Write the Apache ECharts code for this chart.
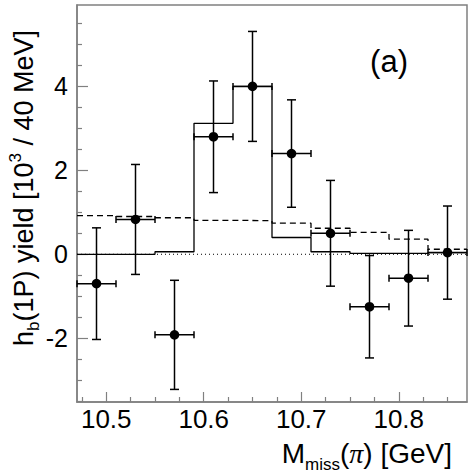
<!DOCTYPE html>
<html>
<head>
<meta charset="utf-8">
<script src="https://cdn.jsdelivr.net/npm/echarts@6/dist/echarts.min.js"></script>
<style>
  html, body { margin: 0; padding: 0; background: #fff; }
  #chart { width: 473px; height: 473px; }
</style>
</head>
<body>
<div id="chart"></div>
<script>
// measured points with errors
var xPts = [10.49, 10.53, 10.57, 10.61, 10.65, 10.69, 10.73, 10.77, 10.81, 10.85];
var yPts = [-0.70, 0.83, -1.92, 2.80, 4.00, 2.40, 0.50, -1.25, -0.57, 0.04];
var yErr = [1.33, 1.31, 1.30, 1.33, 1.31, 1.28, 1.26, 1.22, 1.14, 1.11];
var xErr = 0.02;

// histogram bins (left edges + last right edge)
var binEdges = [10.47, 10.51, 10.55, 10.59, 10.63, 10.67, 10.71, 10.75, 10.79, 10.83, 10.87];
var solidHist = [0, 0, 0.06, 3.12, 4.00, 0.40, 0.06, 0.02, 0.02, 0.04];
var dashedHist = [0.92, 0.90, 0.87, 0.81, 0.80, 0.74, 0.62, 0.52, 0.36, 0.12];

var xLabels = [10.5, 10.6, 10.7, 10.8];
var xMinor = [10.475, 10.525, 10.55, 10.575, 10.625, 10.65, 10.675, 10.725, 10.75, 10.775, 10.825, 10.85];
var yLabels = [-2, 0, 2, 4];
var yMinor = [-3.5, -3, -2.5, -1.5, -1, -0.5, 0.5, 1, 1.5, 2.5, 3, 3.5, 4.5, 5, 5.5];

var xMin = 10.47, xMax = 10.87;
var yMin = -3.52, yMax = 5.94;

var chart = echarts.init(document.getElementById('chart'), null, {renderer: 'svg'});

function histData(vals) {
    var d = [];
    for (var i = 0; i < vals.length; i++) {
        d.push([binEdges[i], vals[i]]);
    }
    d.push([binEdges[binEdges.length - 1], vals[vals.length - 1]]);
    return d;
}

var pointData = xPts.map(function (x, i) {
    return [x, yPts[i], yErr[i], xErr];
});

var axisGray = '#808080';
var font = 'Liberation Sans, Arial, sans-serif';

function renderErr(params, api) {
    var x = api.value(0), y = api.value(1), ey = api.value(2), ex = api.value(3);
    var c = api.coord([x, y]);
    var t = api.coord([x, y + ey]);
    var b = api.coord([x, y - ey]);
    var l = api.coord([x - ex, y]);
    var r = api.coord([x + ex, y]);
    var cap = 4.5;
    var st = {stroke: '#000', lineWidth: 1.5};
    return {
        type: 'group',
        children: [
            {type: 'line', shape: {x1: t[0], y1: t[1], x2: b[0], y2: b[1]}, style: st},
            {type: 'line', shape: {x1: t[0] - cap, y1: t[1], x2: t[0] + cap, y2: t[1]}, style: st},
            {type: 'line', shape: {x1: b[0] - cap, y1: b[1], x2: b[0] + cap, y2: b[1]}, style: st},
            {type: 'line', shape: {x1: l[0], y1: l[1], x2: r[0], y2: r[1]}, style: st},
            {type: 'line', shape: {x1: l[0], y1: l[1] - 3.5, x2: l[0], y2: l[1] + 3.5}, style: st},
            {type: 'line', shape: {x1: r[0], y1: r[1] - 3.5, x2: r[0], y2: r[1] + 3.5}, style: st},
            {type: 'circle', shape: {cx: c[0], cy: c[1], r: 4.8}, style: {fill: '#000'}}
        ]
    };
}

var option = {
    animation: false,
    backgroundColor: '#fff',
    grid: {
        left: 77, top: 5, right: 6, bottom: 71,
        show: true, borderColor: axisGray, borderWidth: 1.5
    },
    xAxis: [{
        type: 'value', min: xMin, max: xMax,
        axisLine: {show: true, onZero: false, lineStyle: {color: axisGray, width: 1.5}},
        axisTick: {show: true, inside: true, length: 10, customValues: xLabels, lineStyle: {color: axisGray, width: 1.2}},
        axisLabel: {customValues: xLabels, color: '#000', fontSize: 26, fontFamily: font, margin: 4,
            formatter: function (v) { return v.toFixed(1); }},
        splitLine: {show: false}
    }, {
        type: 'value', min: xMin, max: xMax, position: 'bottom',
        axisLine: {show: false, onZero: false},
        axisTick: {show: true, inside: true, length: 5, customValues: xMinor, lineStyle: {color: axisGray, width: 1.2}},
        axisLabel: {show: false},
        splitLine: {show: false}
    }],
    yAxis: [{
        type: 'value', min: yMin, max: yMax,
        axisLine: {show: true, onZero: false, lineStyle: {color: axisGray, width: 1.5}},
        axisTick: {show: true, inside: true, length: 11, customValues: yLabels, lineStyle: {color: axisGray, width: 1.2}},
        axisLabel: {customValues: yLabels, color: '#000', fontSize: 25, fontFamily: font, margin: 9},
        splitLine: {show: false}
    }, {
        type: 'value', min: yMin, max: yMax, position: 'left',
        axisLine: {show: false, onZero: false},
        axisTick: {show: true, inside: true, length: 5, customValues: yMinor, lineStyle: {color: axisGray, width: 1.2}},
        axisLabel: {show: false},
        splitLine: {show: false}
    }],
    graphic: [{
        type: 'text', x: 22, y: 188, rotation: Math.PI / 2,
        style: {
            text: '{n|h}{sub|b}{n|(1P) yield [10}{sup|3}{n| / 40 MeV]}',
            align: 'center', verticalAlign: 'middle',
            rich: {
                n: {fontSize: 27, fontFamily: font, fill: '#000', lineHeight: 30, verticalAlign: 'bottom'},
                sub: {fontSize: 17, fontFamily: font, fill: '#000', lineHeight: 30, verticalAlign: 'bottom', padding: [0, 0, -5, 0]},
                sup: {fontSize: 17, fontFamily: font, fill: '#000', lineHeight: 30, verticalAlign: 'top', padding: [0, 0, 0, 0]}
            }
        }
    }, {
        type: 'text', x: 452, y: 452,
        style: {
            text: '{n|M}{sub|miss}{n|(}{pi|π}{n|) [GeV]}',
            align: 'right', verticalAlign: 'middle',
            rich: {
                n: {fontSize: 28, fontFamily: font, fill: '#000', lineHeight: 30, verticalAlign: 'bottom'},
                sub: {fontSize: 17, fontFamily: font, fill: '#000', lineHeight: 30, verticalAlign: 'bottom', padding: [0, 0, -6, 0]},
                pi: {fontSize: 28, fontFamily: 'Liberation Serif, serif', fontStyle: 'italic', fill: '#000', lineHeight: 30, verticalAlign: 'bottom'}
            }
        }
    }, {
        type: 'text', x: 389, y: 61,
        style: {text: '(a)', fontSize: 31, fontFamily: font, fill: '#000', align: 'center', verticalAlign: 'middle'}
    }],
    series: [{
        type: 'line', name: 'zero',
        data: [[xMin, 0], [xMax, 0]],
        symbol: 'none', silent: true,
        lineStyle: {color: '#000', width: 1, type: [1, 3]}
    }, {
        type: 'line', name: 'background',
        data: histData(dashedHist), step: 'end',
        symbol: 'none', silent: true,
        lineStyle: {color: '#000', width: 1.3, type: [6, 4]}
    }, {
        type: 'line', name: 'signal',
        data: histData(solidHist), step: 'end',
        symbol: 'none', silent: true,
        lineStyle: {color: '#000', width: 1.3}
    }, {
        type: 'custom', name: 'data',
        data: pointData,
        encode: {x: 0, y: 1},
        renderItem: renderErr,
        z: 5
    }]
};

chart.setOption(option);
</script>
</body>
</html>
